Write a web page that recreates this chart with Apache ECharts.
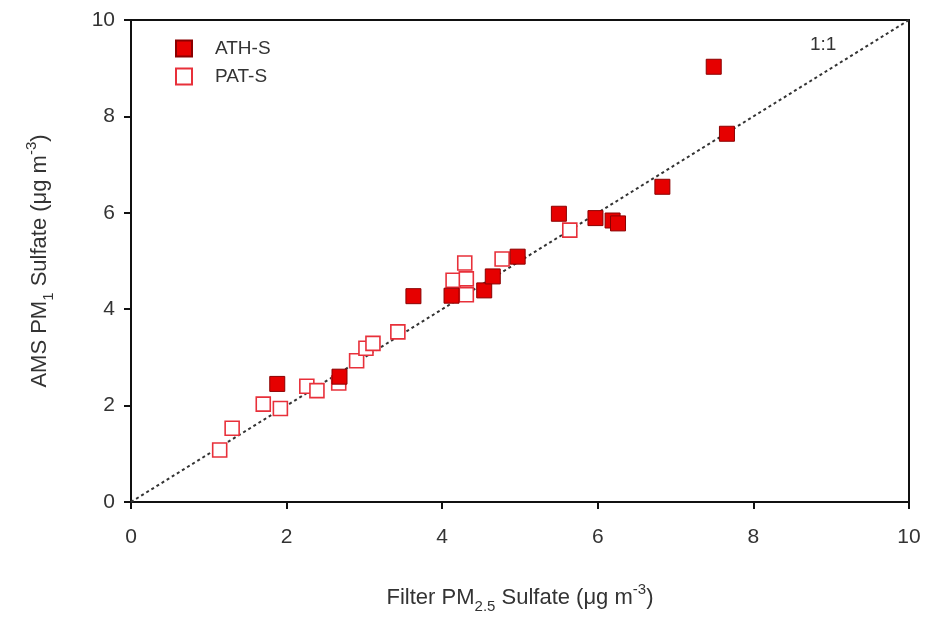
<!DOCTYPE html>
<html><head><meta charset="utf-8">
<script src="https://cdn.jsdelivr.net/npm/echarts@6/dist/echarts.min.js"></script>
<style>html,body{margin:0;padding:0;background:#fff}#c{width:927px;height:617px}</style>
</head><body><div id="c"></div>
<script>
const athS = [
  [1.88,2.45],[2.68,2.60],[3.63,4.27],[4.12,4.28],[4.54,4.39],[4.65,4.68],
  [4.97,5.09],[5.50,5.98],[5.97,5.89],[6.19,5.84],[6.26,5.78],[6.83,6.54],
  [7.49,9.03],[7.66,7.64]
];
const patS = [
  [1.14,1.08],[1.30,1.53],[1.70,2.03],[1.92,1.94],[2.26,2.40],[2.39,2.31],
  [2.67,2.47],[2.90,2.93],[3.02,3.19],[3.11,3.29],[3.43,3.53],[4.14,4.60],
  [4.29,4.96],[4.31,4.63],[4.31,4.30],[4.77,5.04],[5.64,5.64]
];
const oneToOne = [[0,0],[10,10]];
const xTicks = [0,2,4,6,8,10];
const yTicks = [0,2,4,6,8,10];

const font = 'Liberation Sans, Arial, sans-serif';
const chart = echarts.init(document.getElementById('c'), null, {renderer:'canvas'});
const richTitle = {
  a:{fontSize:22,color:'#333',fontFamily:font,lineHeight:32,verticalAlign:'middle'},
  sub:{fontSize:15,color:'#333',fontFamily:font,lineHeight:32,verticalAlign:'bottom'},
  sup:{fontSize:15,color:'#333',fontFamily:font,lineHeight:32,verticalAlign:'top'}
};
chart.setOption({
  animation:false,
  backgroundColor:'#fff',
  grid:{left:131,right:18,top:20,bottom:115,outerBoundsMode:'none',containLabel:false,
        show:true,borderColor:'#111',borderWidth:2,backgroundColor:'transparent'},
  legend:{
    left:170, top:34, orient:'vertical', itemGap:9, itemWidth:16, itemHeight:16,
    textStyle:{fontSize:19,color:'#333',fontFamily:font,padding:[0,0,0,18]},
    data:[
      {name:'ATH-S',icon:'rect'},
      {name:'PAT-S',icon:'rect'}
    ]
  },
  xAxis:{
    type:'value',min:xTicks[0],max:xTicks[xTicks.length-1],interval:2,
    axisLine:{lineStyle:{color:'#111',width:2}},
    axisTick:{show:true,length:7,lineStyle:{color:'#111',width:2}},
    axisLabel:{fontSize:21,color:'#333',fontFamily:font,margin:25},
    splitLine:{show:false},
    name:'{a|Filter PM}{sub|2.5}{a| Sulfate (μg m}{sup|-3}{a|)}',
    nameLocation:'middle',nameGap:80,
    nameTextStyle:{rich:richTitle}
  },
  yAxis:{
    type:'value',min:yTicks[0],max:yTicks[yTicks.length-1],interval:2,
    axisLine:{lineStyle:{color:'#111',width:2}},
    axisTick:{show:true,length:7,lineStyle:{color:'#111',width:2}},
    axisLabel:{fontSize:21,color:'#333',fontFamily:font,margin:16},
    splitLine:{show:false},
    name:'{a|AMS PM}{sub|1}{a| Sulfate (μg m}{sup|-3}{a|)}',
    nameLocation:'middle',nameGap:75,nameRotate:90,
    nameTextStyle:{rich:richTitle}
  },
  graphic:[{type:'text',left:810,top:35,style:{text:'1:1',fontSize:19,fill:'#333',fontFamily:font}}],
  series:[
    {type:'line',data:oneToOne,symbol:'none',silent:true,
     lineStyle:{color:'#333',width:2,type:[3,3]},z:1},
    {name:'PAT-S',type:'scatter',data:patS,symbol:'rect',symbolSize:14,
     itemStyle:{color:'#fff',borderColor:'#e8303a',borderWidth:1.6,opacity:1},z:3},
    {name:'ATH-S',type:'scatter',data:athS,symbol:'rect',symbolSize:15,
     itemStyle:{color:'#e60000',borderColor:'#8a0000',borderWidth:1,opacity:1},z:4}
  ]
});
</script></body></html>
